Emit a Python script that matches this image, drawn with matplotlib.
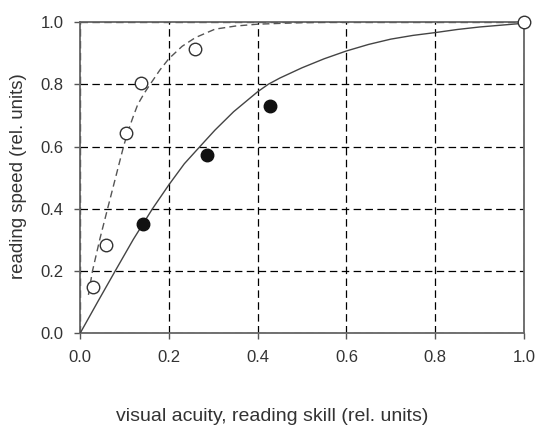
import matplotlib.pyplot as plt

plt.rcParams['font.family'] = ['Liberation Sans', 'DejaVu Sans']

# Measured data points
open_x = [0.029, 0.059, 0.104, 0.137, 0.260, 1.0]
open_y = [0.148, 0.284, 0.645, 0.803, 0.913, 1.0]
filled_x = [0.143, 0.287, 0.429]
filled_y = [0.352, 0.573, 0.730]

# Curves
solid_x = [0.0, 0.04, 0.079, 0.12, 0.163, 0.2, 0.235, 0.27, 0.304, 0.346, 0.40, 0.424, 0.45,
           0.50, 0.55, 0.586, 0.60, 0.65, 0.70, 0.75, 0.80, 0.85, 0.90, 0.95, 1.0]
solid_y = [0.0, 0.102, 0.2, 0.302, 0.4, 0.477, 0.545, 0.6, 0.653, 0.712, 0.776, 0.8, 0.82,
           0.853, 0.882, 0.900, 0.907, 0.928, 0.945, 0.957, 0.966, 0.976, 0.984, 0.990, 0.996]
dashed_x = [0.019, 0.028, 0.045, 0.062, 0.08, 0.098, 0.109, 0.12, 0.13, 0.145, 0.158, 0.18,
            0.2, 0.23, 0.26, 0.304, 0.35, 0.40, 0.50, 0.60]
dashed_y = [0.124, 0.2, 0.305, 0.4, 0.5, 0.6, 0.653, 0.697, 0.735, 0.772, 0.8, 0.846,
            0.882, 0.922, 0.950, 0.977, 0.987, 0.993, 0.998, 1.0]

ticks = [0.0, 0.2, 0.4, 0.6, 0.8, 1.0]

fig = plt.figure(figsize=(5.38, 4.28), dpi=100)
ax = fig.add_axes([0.1487, 0.2208, 0.8253, 0.7278])

ax.plot(solid_x, solid_y, color='#444444', lw=1.0, zorder=3)
ax.plot(dashed_x, dashed_y, color='#555555', lw=1.0, dashes=(5, 3), zorder=3)
ax.plot(open_x, open_y, 'o', ms=9, mfc='white', mec='#333333', mew=1.0, zorder=4, clip_on=False)
ax.plot(filled_x, filled_y, 'o', ms=9, mfc='#111111', mec='#111111', zorder=4)

ax.set_xlim(0, 1)
ax.set_ylim(0, 1)
ax.set_xticks(ticks)
ax.set_yticks(ticks)
ax.set_xticklabels([f'{t:.1f}' for t in ticks])
ax.set_yticklabels([f'{t:.1f}' for t in ticks])
ax.grid(True, color='black', lw=0.9, dashes=(6, 3.5))
for s in ax.spines.values():
    s.set_color('#666666')
    s.set_linewidth(1.3)
ax.tick_params(direction='out', length=4, width=1, color='#555555', labelsize=12,
               labelcolor='#333333', pad=8)

fig.text(0.034, 0.589, 'reading speed (rel. units)', fontsize=13.4, color='#333333',
         rotation=90, ha='center', va='center')
fig.text(0.5065, 0.027, 'visual acuity, reading skill (rel. units)', fontsize=14,
         color='#333333', ha='center', va='center')

fig.savefig('out.png', dpi=100)
